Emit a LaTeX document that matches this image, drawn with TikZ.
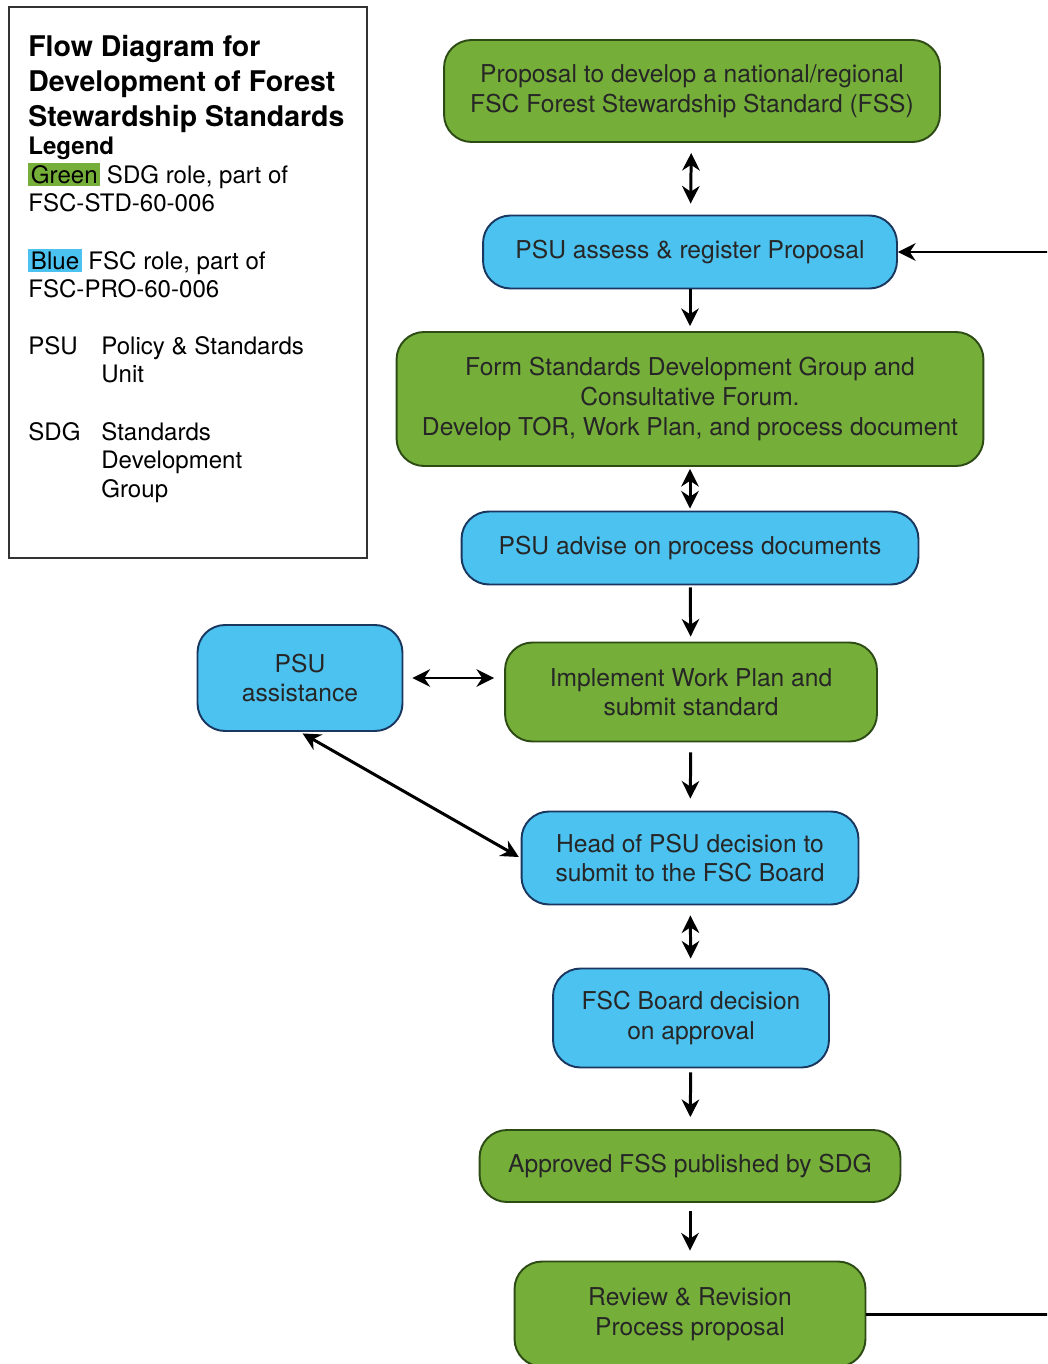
\documentclass[tikz,border=0pt]{standalone}
\usepackage{fontspec}
\setmainfont{TeX Gyre Heros}
\usetikzlibrary{arrows.meta}
\definecolor{sdggreen}{RGB}{118,174,58}
\definecolor{fscblue}{RGB}{76,194,240}
\definecolor{sdgedge}{RGB}{45,75,20}
\definecolor{fscedge}{RGB}{25,55,95}
\newcommand{\hilite}[2]{{\setlength{\fboxsep}{1.5pt}\colorbox{#1}{#2}}}
\begin{document}
\begin{tikzpicture}[x=0.02cm,y=-0.02cm,
  stage/.style={draw=#1,line width=1.1pt,rounded corners=0.55cm,align=center,inner sep=0pt,
    font=\fontsize{14}{16.8}\selectfont,text=black!85},
  sdg/.style={stage=sdgedge,fill=sdggreen},
  fsc/.style={stage=fscedge,fill=fscblue},
  flow/.style={line width=1.7pt,-{Stealth[length=10pt,width=10pt]}},
  twoway/.style={line width=1.7pt,{Stealth[length=10pt,width=10pt]}-{Stealth[length=10pt,width=10pt]}}]
\clip (0,0) rectangle (1047,1364);
% legend
\draw[line width=0.8pt,black!80] (9,7) rectangle (367,558);
\node[anchor=north west,inner sep=0pt,align=left,font=\fontsize{16.2}{19.8}\selectfont\bfseries] (title) at (28,35)
  {Flow Diagram for\\Development of Forest\\Stewardship Standards};
\node[anchor=north west,inner sep=0pt,align=left,font=\fontsize{13.7}{16.2}\selectfont] (legend) at (28,137)
  {\textbf{Legend}\\
   \hilite{sdggreen}{Green} SDG role, part of\\
   FSC-STD-60-006\\[16.5pt]
   \hilite{fscblue}{Blue} FSC role, part of\\
   FSC-PRO-60-006\\[16pt]
   \makebox[1.46cm][l]{PSU}Policy \& Standards\\
   \hspace*{1.46cm}Unit\\[16.5pt]
   \makebox[1.46cm][l]{SDG}Standards\\
   \hspace*{1.46cm}Development\\
   \hspace*{1.46cm}Group};
% main column
\node[sdg,minimum width=9.92cm,minimum height=2.04cm] (proposal) at (692,91)
  {Proposal to develop a national/regional\\FSC Forest Stewardship Standard (FSS)};
\node[fsc,minimum width=8.28cm,minimum height=1.46cm] (assess) at (690,252)
  {PSU assess \& register Proposal};
\node[sdg,minimum width=11.74cm,minimum height=2.68cm] (form) at (690,399)
  {Form Standards Development Group and\\Consultative Forum.\\Develop TOR, Work Plan, and process document};
\node[fsc,minimum width=9.14cm,minimum height=1.46cm] (advise) at (690,548)
  {PSU advise on process documents};
\node[sdg,minimum width=7.44cm,minimum height=1.98cm] (implement) at (691,692)
  {Implement Work Plan and\\submit standard};
\node[fsc,minimum width=4.1cm,minimum height=2.12cm] (assist) at (300,678)
  {PSU\\assistance};
\node[fsc,minimum width=6.74cm,minimum height=1.86cm] (head) at (690,858)
  {Head of PSU decision to\\submit to the FSC Board};
\node[fsc,minimum width=5.52cm,minimum height=1.98cm] (board) at (691,1018)
  {FSC Board decision\\on approval};
\node[sdg,minimum width=8.42cm,minimum height=1.44cm] (approved) at (690,1166)
  {Approved FSS published by SDG};
\node[sdg,minimum width=7.02cm,minimum height=2.1cm] (review) at (690,1314)
  {Review \& Revision\\Process proposal};
% connectors
\draw[twoway,shorten <=0.2cm,shorten >=0.22cm] (proposal) -- (assess);
\draw[flow,shorten >=0.1cm] (assess) -- (form);
\draw[twoway,shorten <=0.04cm,shorten >=0.04cm] (form) -- (advise);
\draw[flow,shorten <=0.04cm,shorten >=0.1cm] (advise) -- (implement);
\draw[flow,shorten <=0.2cm,shorten >=0.24cm] (implement) -- (head);
\draw[twoway,shorten <=0.2cm,shorten >=0.18cm] (head) -- (board);
\draw[flow,shorten <=0.08cm,shorten >=0.24cm] (board) -- (approved);
\draw[flow,shorten <=0.16cm,shorten >=0.2cm] (approved) -- (review);
\draw[twoway,shorten <=0.18cm,shorten >=0.2cm] (assist.east) -- (assist.east -| implement.west);
\draw[twoway,shorten <=0.06cm,shorten >=0.04cm] (assist.south) -- (head.west);
\draw[flow] (review.east) -- ++(200,0) |- (assess.east);
\end{tikzpicture}
\end{document}
